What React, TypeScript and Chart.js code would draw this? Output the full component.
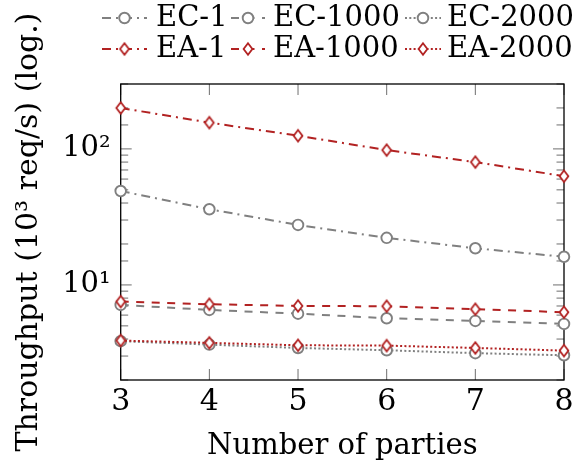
import React, { useEffect, useRef } from "react";
import { Chart, registerables } from "chart.js";

Chart.register(...registerables);

const parties = [3, 4, 5, 6, 7, 8];
const ec1 = [49, 36, 27.6, 22.2, 18.6, 16.1];
const ec1000 = [7.13, 6.55, 6.15, 5.69, 5.44, 5.17];
const ec2000 = [3.86, 3.64, 3.44, 3.31, 3.15, 3.04];
const ea1 = [200, 156, 125, 98, 80, 63];
const ea1000 = [7.54, 7.21, 7.01, 6.97, 6.63, 6.3];
const ea2000 = [3.9, 3.75, 3.6, 3.58, 3.44, 3.29];
const seriesLabels = ["EC-1", "EC-1000", "EC-2000", "EA-1", "EA-1000", "EA-2000"];
const yTickLabels: Record<number, string> = { 10: "10¹", 100: "10²" };
const xTitle = "Number of parties";
const yTitle = "Throughput (10³ req/s) (log.)";

const GRAY = "rgb(128,128,128)";
const RED = "rgb(178,34,34)";
const FONT = "'DejaVu Serif', serif";
const DASHDOT = [9, 5, 2, 5];
const DASHED = [8, 7.5];
const DOTTED = [2, 2.3];

function makeDiamond(color: string) {
  const c = document.createElement("canvas");
  c.width = 16;
  c.height = 18;
  const ctx = c.getContext("2d")!;
  const cx = 8, cy = 9, hw = 4.4, hh = 5.8;
  ctx.beginPath();
  ctx.moveTo(cx, cy - hh);
  ctx.lineTo(cx + hw, cy);
  ctx.lineTo(cx, cy + hh);
  ctx.lineTo(cx - hw, cy);
  ctx.closePath();
  ctx.fillStyle = "#fff";
  ctx.fill();
  ctx.lineWidth = 1.8;
  ctx.strokeStyle = color;
  ctx.stroke();
  return c;
}

const framePlugin = {
  id: "frameTicks",
  beforeDatasetsDraw(chart: any) {
    const { ctx, chartArea: a, scales } = chart;
    const xs = scales.x, ys = scales.y;
    ctx.save();
    ctx.strokeStyle = "#6e6e6e";
    ctx.lineWidth = 1;
    xs.ticks.forEach((t: any) => {
      const px = xs.getPixelForValue(t.value);
      ctx.beginPath();
      ctx.moveTo(px, a.bottom);
      ctx.lineTo(px, a.bottom - 11);
      ctx.moveTo(px, a.top);
      ctx.lineTo(px, a.top + 11);
      ctx.stroke();
    });
    ys.ticks.forEach((t: any) => {
      const py = ys.getPixelForValue(t.value);
      const lg = Math.log10(t.value);
      const len = Math.abs(lg - Math.round(lg)) < 1e-6 ? 11 : 7.5;
      ctx.beginPath();
      ctx.moveTo(a.left, py);
      ctx.lineTo(a.left + len, py);
      ctx.moveTo(a.right, py);
      ctx.lineTo(a.right - len, py);
      ctx.stroke();
    });
    ctx.strokeStyle = "#000";
    ctx.lineWidth = 1.3;
    ctx.strokeRect(a.left, a.top, a.right - a.left, a.bottom - a.top);
    ctx.restore();
  },
};

const legendPlugin = {
  id: "customLegend",
  afterDraw(chart: any) {
    const { ctx } = chart;
    const cols = [
      { s: 102, e: 147, t: 156 },
      { s: 231, e: 265, t: 273 },
      { s: 405, e: 441, t: 447 },
    ];
    const rows = [18, 49];
    chart.data.datasets.forEach((ds: any, i: number) => {
      const c = cols[i % 3];
      const y = rows[Math.floor(i / 3)];
      ctx.save();
      ctx.strokeStyle = ds.borderColor;
      ctx.lineWidth = ds.borderWidth;
      ctx.setLineDash(ds.borderDash);
      ctx.beginPath();
      ctx.moveTo(c.s, y);
      ctx.lineTo(c.e, y);
      ctx.stroke();
      ctx.setLineDash([]);
      const mx = (c.s + c.e) / 2;
      if (ds.pointStyle === "circle") {
        ctx.beginPath();
        ctx.arc(mx, y, ds.pointRadius, 0, Math.PI * 2);
        ctx.fillStyle = "#fff";
        ctx.fill();
        ctx.lineWidth = ds.pointBorderWidth;
        ctx.strokeStyle = ds.pointBorderColor;
        ctx.stroke();
      } else {
        const img = ds.pointStyle as HTMLCanvasElement;
        ctx.drawImage(img, mx - img.width / 2, y - img.height / 2);
      }
      ctx.fillStyle = "#000";
      ctx.font = `29px ${FONT}`;
      ctx.textBaseline = "middle";
      ctx.textAlign = "left";
      ctx.fillText(ds.label, c.t, y);
      ctx.restore();
    });
  },
};

export default function App() {
  const ref = useRef<HTMLCanvasElement>(null);
  useEffect(() => {
    const diamond = makeDiamond(RED);
    const mk = (label: string, vals: number[], color: string, dash: number[], ea: boolean) => ({
      label,
      data: parties.map((p, i) => ({ x: p, y: vals[i] })),
      borderColor: color,
      borderWidth: 2,
      borderDash: dash,
      pointStyle: ea ? diamond : "circle",
      pointRadius: 5.3,
      pointBorderWidth: 1.9,
      pointBorderColor: color,
      pointBackgroundColor: "#fff",
      fill: false,
      tension: 0,
      clip: false,
      order: ea ? 0 : 1,
    });
    const chart = new Chart(ref.current!, {
      type: "line",
      data: {
        datasets: [
          mk(seriesLabels[0], ec1, GRAY, DASHDOT, false),
          mk(seriesLabels[1], ec1000, GRAY, DASHED, false),
          mk(seriesLabels[2], ec2000, GRAY, DOTTED, false),
          mk(seriesLabels[3], ea1, RED, DASHDOT, true),
          mk(seriesLabels[4], ea1000, RED, DASHED, true),
          mk(seriesLabels[5], ea2000, RED, DOTTED, true),
        ] as any,
      },
      options: {
        animation: false,
        responsive: false,
        devicePixelRatio: 1,
        layout: { padding: { top: 84, right: 16, left: 0, bottom: 0 } },
        plugins: { legend: { display: false }, tooltip: { enabled: false } },
        scales: {
          x: {
            type: "linear",
            min: 3,
            max: 8,
            grid: { display: false, drawTicks: false },
            border: { display: false },
            ticks: {
              stepSize: 1,
              padding: 4,
              color: "#000",
              font: { family: FONT, size: 30 },
            },
            title: {
              display: true,
              text: xTitle,
              color: "#000",
              font: { family: FONT, size: 29 },
              padding: { top: 0, bottom: 2 },
            },
            afterFit: (s: any) => {
              s.height = 86;
            },
          },
          y: {
            type: "logarithmic",
            min: 2,
            max: 300,
            grid: { display: false, drawTicks: false },
            border: { display: false },
            ticks: {
              autoSkip: false,
              padding: 10,
              color: "#000",
              font: { family: FONT, size: 29 },
              callback: (v: any) => yTickLabels[Number(v)] ?? "",
            },
            title: {
              display: true,
              text: yTitle,
              color: "#000",
              font: { family: FONT, size: 30 },
              padding: { top: 11, bottom: 0 },
            },
            afterFit: (s: any) => {
              s.width = 120.7;
            },
          },
        },
      } as any,
      plugins: [framePlugin, legendPlugin],
    });
    return () => chart.destroy();
  }, []);
  return (
    <div style={{ position: "absolute", left: 0, top: 0, width: 580, height: 466 }}>
      <canvas ref={ref} width={580} height={466} />
    </div>
  );
}
